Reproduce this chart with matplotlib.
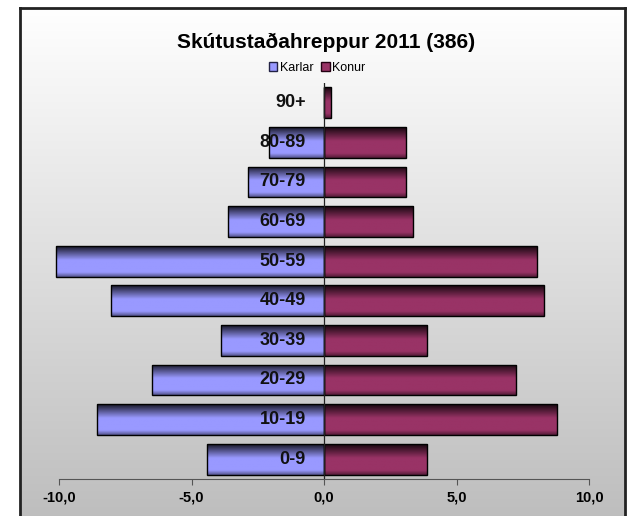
import numpy as np
import matplotlib
matplotlib.use("Agg")
import matplotlib.pyplot as plt
import matplotlib.transforms as mtransforms
from matplotlib.patches import Patch
from matplotlib.colors import to_rgb

# aldurshópar, neðst upp
age_groups = ["0-9", "10-19", "20-29", "30-39", "40-49", "50-59",
              "60-69", "70-79", "80-89", "90+"]
# hlutfall (%) af íbúum
karlar = [4.40, 8.55, 6.48, 3.89, 8.03, 10.10, 3.63, 2.85, 2.07, 0.0]
konur = [3.89, 8.81, 7.25, 3.89, 8.29, 8.03, 3.37, 3.11, 3.11, 0.26]
x_ticks = [-10, -5, 0, 5, 10]

title = "Skútustaðahreppur 2011 (386)"
male_color = "#9999ff"
female_color = "#993366"

plt.rcParams['font.family'] = ['Liberation Sans', 'DejaVu Sans']

fig = plt.figure(figsize=(6.28, 5.16), dpi=100)

# bakgrunnur með litbrigðum og ramma
bg = fig.add_axes([20 / 628, -0.02, 605 / 628, (516 - 8) / 516 + 0.02])
grad = np.linspace(1.0, 0.74, 256).reshape(-1, 1)
bg.imshow(np.dstack([grad, grad, grad]), aspect='auto', extent=[0, 1, 0, 1],
          origin='upper')
bg.set_xlim(0, 1)
bg.set_ylim(0, 1)
bg.set_xticks([])
bg.set_yticks([])
for side in ['left', 'right', 'top']:
    bg.spines[side].set_linewidth(2)
    bg.spines[side].set_color('#222222')
bg.spines['bottom'].set_visible(False)
bg.set_zorder(0)

ax = fig.add_axes([59 / 628, 37 / 516, 530 / 628, 396 / 516])
ax.set_zorder(1)
ax.patch.set_alpha(0)

y = np.arange(len(age_groups))
bar_h = 0.78


def shade(base):
    # lóðrétt skygging: dökkt efst, ljóst í miðju, aðeins dekkra neðst
    t = np.linspace(0, 1, 64)
    f = np.interp(t, [0, 0.45, 0.85, 1.0], [0.15, 1.0, 1.0, 0.55])
    rgb = np.array(to_rgb(base))
    return (f[:, None] * rgb[None, :])[:, None, :]


def draw_bars(values, color, sign):
    bars = ax.barh(y, [sign * v for v in values], height=bar_h, color=color,
                   edgecolor='black', linewidth=1.0, zorder=2, clip_on=False)
    img = shade(color)
    for b in bars:
        if b.get_width() == 0:
            continue
        x0 = b.get_x()
        x1 = x0 + b.get_width()
        y0 = b.get_y()
        y1 = y0 + b.get_height()
        im = ax.imshow(img, extent=[min(x0, x1), max(x0, x1), y0, y1],
                       aspect='auto', origin='upper', zorder=2.1)
        im.set_clip_path(b)
        b.set_facecolor('none')
        b.set_zorder(2.2)
    return bars


draw_bars(karlar, male_color, -1)
draw_bars(konur, female_color, 1)

ax.set_xlim(-10, 10)
ax.set_ylim(-0.5, len(age_groups) - 0.5)
ax.axvline(0, color='#222222', lw=0.9, zorder=3)

# flokkaheiti við miðjuás
off = mtransforms.offset_copy(ax.transData, fig=fig, x=-18, y=0, units='dots')
for yi, lab in zip(y, age_groups):
    ax.text(0, yi, lab, transform=off, ha='right', va='center',
            fontsize=13, fontweight='bold', color='#111111', zorder=5)

ax.set_yticks([])
ax.set_xticks(x_ticks)
ax.set_xticklabels([f"{v:.1f}".replace('.', ',') for v in x_ticks],
                   fontsize=10.5, fontweight='bold')
ax.tick_params(axis='x', direction='out', length=4, color='#555555', pad=4)
for side in ['left', 'right', 'top']:
    ax.spines[side].set_visible(False)
ax.spines['bottom'].set_color('#555555')

fig.text(0.52, 1 - 42 / 516, title, ha='center', va='center',
         fontsize=15, fontweight='bold')

handles = [Patch(facecolor=male_color, edgecolor='#222244', label='Karlar'),
           Patch(facecolor=female_color, edgecolor='#220011', label='Konur')]
fig.legend(handles=handles, loc='center', bbox_to_anchor=(317 / 628, 1 - 68 / 516),
           ncol=2, frameon=False, fontsize=9, handlelength=0.7,
           handleheight=0.7, handletextpad=0.2, columnspacing=0.6)

fig.savefig("out.png", dpi=100)
